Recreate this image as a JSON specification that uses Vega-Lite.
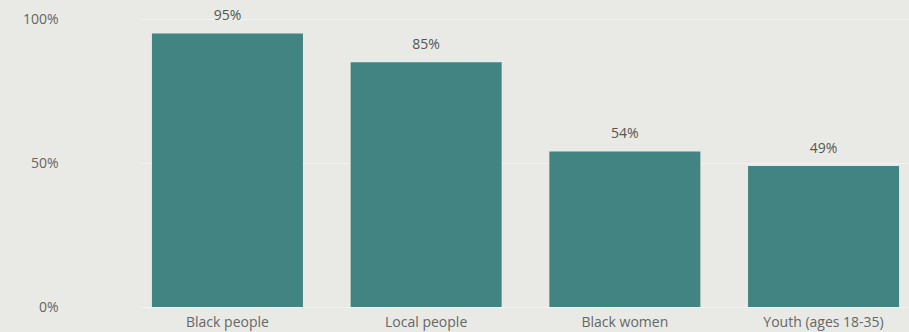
{
  "$schema": "https://vega.github.io/schema/vega-lite/v6.json",
  "width": 767,
  "height": 288,
  "autosize": {"type": "none"},
  "padding": {"left": 142, "top": 19, "right": 0, "bottom": 25},
  "background": "#e9eae5",
  "config": {
    "view": {"stroke": null},
    "font": "Open Sans"
  },
  "data": {
    "values": [
      {"group": "Black people", "value": 0.95},
      {"group": "Local people", "value": 0.85},
      {"group": "Black women", "value": 0.54},
      {"group": "Youth (ages 18-35)", "value": 0.49}
    ]
  },
  "encoding": {
    "x": {
      "field": "group",
      "type": "nominal",
      "sort": null,
      "scale": {"paddingInner": 0.24, "paddingOuter": 0.05},
      "axis": {
        "title": null,
        "labelAngle": 0,
        "domain": false,
        "ticks": false,
        "labelPadding": 8,
        "labelFontSize": 14,
        "labelColor": "#666666",
        "labelFont": "Open Sans"
      }
    },
    "y": {
      "field": "value",
      "type": "quantitative",
      "scale": {"domain": [0, 1]},
      "axis": {
        "title": null,
        "values": [0, 0.5, 1],
        "format": ".0%",
        "domain": false,
        "ticks": false,
        "labelPadding": 84,
        "labelFontSize": 14,
        "labelColor": "#666666",
        "labelFont": "Open Sans",
        "gridColor": "#f3f3f0",
        "gridWidth": 1
      }
    }
  },
  "layer": [
    {"mark": {"type": "bar", "color": "#428482"}},
    {
      "mark": {"type": "text", "dy": -17, "fontSize": 14, "color": "#555555", "font": "Open Sans"},
      "encoding": {"text": {"field": "value", "type": "quantitative", "format": ".0%"}}
    }
  ]
}
